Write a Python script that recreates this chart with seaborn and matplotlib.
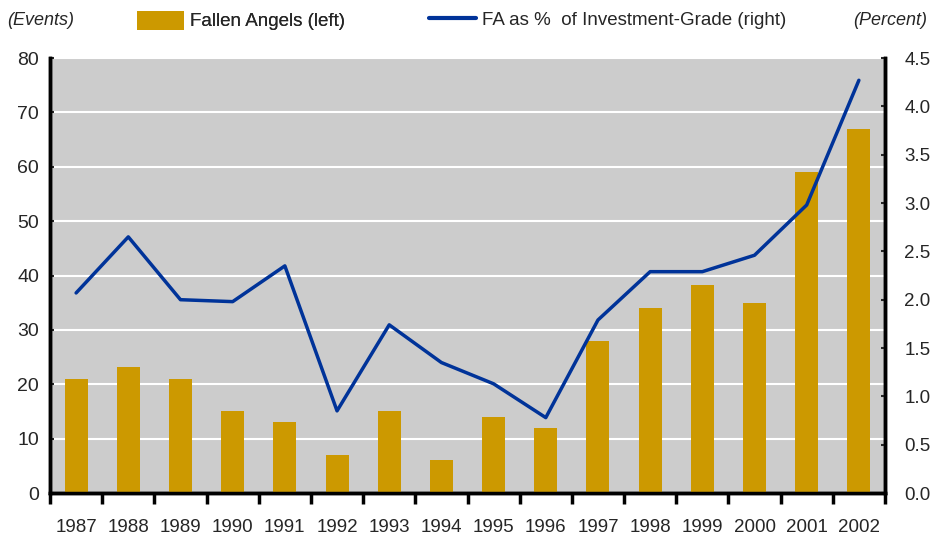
import numpy as np
import pandas as pd
import matplotlib.pyplot as plt
import seaborn as sns
from matplotlib.patches import Patch
from matplotlib.lines import Line2D

years = ['1987', '1988', '1989', '1990', '1991', '1992', '1993', '1994',
         '1995', '1996', '1997', '1998', '1999', '2000', '2001', '2002']
fallen_angels = [21, 23.2, 21, 15, 13, 7, 15, 6, 14, 12, 28, 34, 38.2, 35, 59, 67]
fa_pct_ig = [2.07, 2.65, 2.0, 1.98, 2.35, 0.85, 1.74, 1.35, 1.13, 0.78,
             1.79, 2.29, 2.29, 2.46, 2.98, 4.27]

bar_color = '#CC9900'
line_color = '#003399'

sns.set_style('white')
plt.rcParams['font.family'] = ['Liberation Sans', 'DejaVu Sans']

df = pd.DataFrame({'year': years, 'fa': fallen_angels, 'pct': fa_pct_ig})

fig = plt.figure(figsize=(9.35, 5.39), dpi=100)
ax = fig.add_axes([0.0535, 0.0853, 0.893, 0.807])
ax.set_facecolor('#CCCCCC')

# 柱状图（左轴）
sns.barplot(data=df, x='year', y='fa', color=bar_color, width=0.44,
            saturation=1, linewidth=0, ax=ax, zorder=3)
ax.set_ylim(0, 80)
ax.set_yticks(range(0, 81, 10))
ax.set_xlim(-0.5, len(years) - 0.5)
ax.grid(axis='y', color='white', linewidth=1.5, zorder=0)
ax.set_axisbelow(True)
ax.set_xlabel('')
ax.set_ylabel('')

# x轴刻度放在类别之间
ax.set_xticks(np.arange(len(years)))
ax.set_xticklabels(years)
ax.set_xticks(np.arange(-0.5, len(years), 1), minor=True)
ax.tick_params(axis='x', which='major', length=0, pad=19, labelsize=13.5)
ax.tick_params(axis='x', which='minor', direction='out', length=8, width=2.5,
               color='black', bottom=True)
ax.tick_params(axis='y', left=True, direction='in', length=3, width=1.5,
               labelsize=14, pad=8)

# 折线图（右轴）
ax2 = ax.twinx()
sns.lineplot(x=np.arange(len(years)), y=df['pct'], color=line_color,
             linewidth=2.5, ax=ax2, zorder=4)
ax2.set_ylim(0, 4.5)
ax2.set_yticks(np.arange(0, 4.51, 0.5))
ax2.set_yticklabels([f'{v:.1f}' for v in np.arange(0, 4.51, 0.5)])
ax2.tick_params(axis='y', right=True, direction='in', length=3, width=1.5,
                labelsize=13.5, pad=14)
ax2.set_ylabel('')
ax2.grid(False)

for a in (ax, ax2):
    a.spines['top'].set_visible(False)
    for s in ('left', 'right', 'bottom'):
        a.spines[s].set_linewidth(2.5)
        a.spines[s].set_color('black')

# 轴单位和图例
fig.text(0.008, 0.962, '(Events)', fontsize=13, style='italic', va='center')
fig.text(0.992, 0.962, '(Percent)', fontsize=13, style='italic', va='center',
         ha='right')
leg1 = fig.legend([Patch(facecolor=bar_color, edgecolor='none')],
                  ['Fallen Angels (left)'], loc='center left',
                  bbox_to_anchor=(0.147, 0.962), frameon=False, fontsize=13.5,
                  handlelength=2.5, handleheight=1.2, handletextpad=0.3,
                  borderpad=0, borderaxespad=0)
fig.legend([Line2D([0], [0], color=line_color, linewidth=3)],
           ['FA as %  of Investment-Grade (right)'], loc='center left',
           bbox_to_anchor=(0.459, 0.962), frameon=False, fontsize=13.5,
           handlelength=2.5, handletextpad=0.3, borderpad=0, borderaxespad=0)
fig.add_artist(leg1)

plt.savefig('out.png', dpi=100)
plt.close()
